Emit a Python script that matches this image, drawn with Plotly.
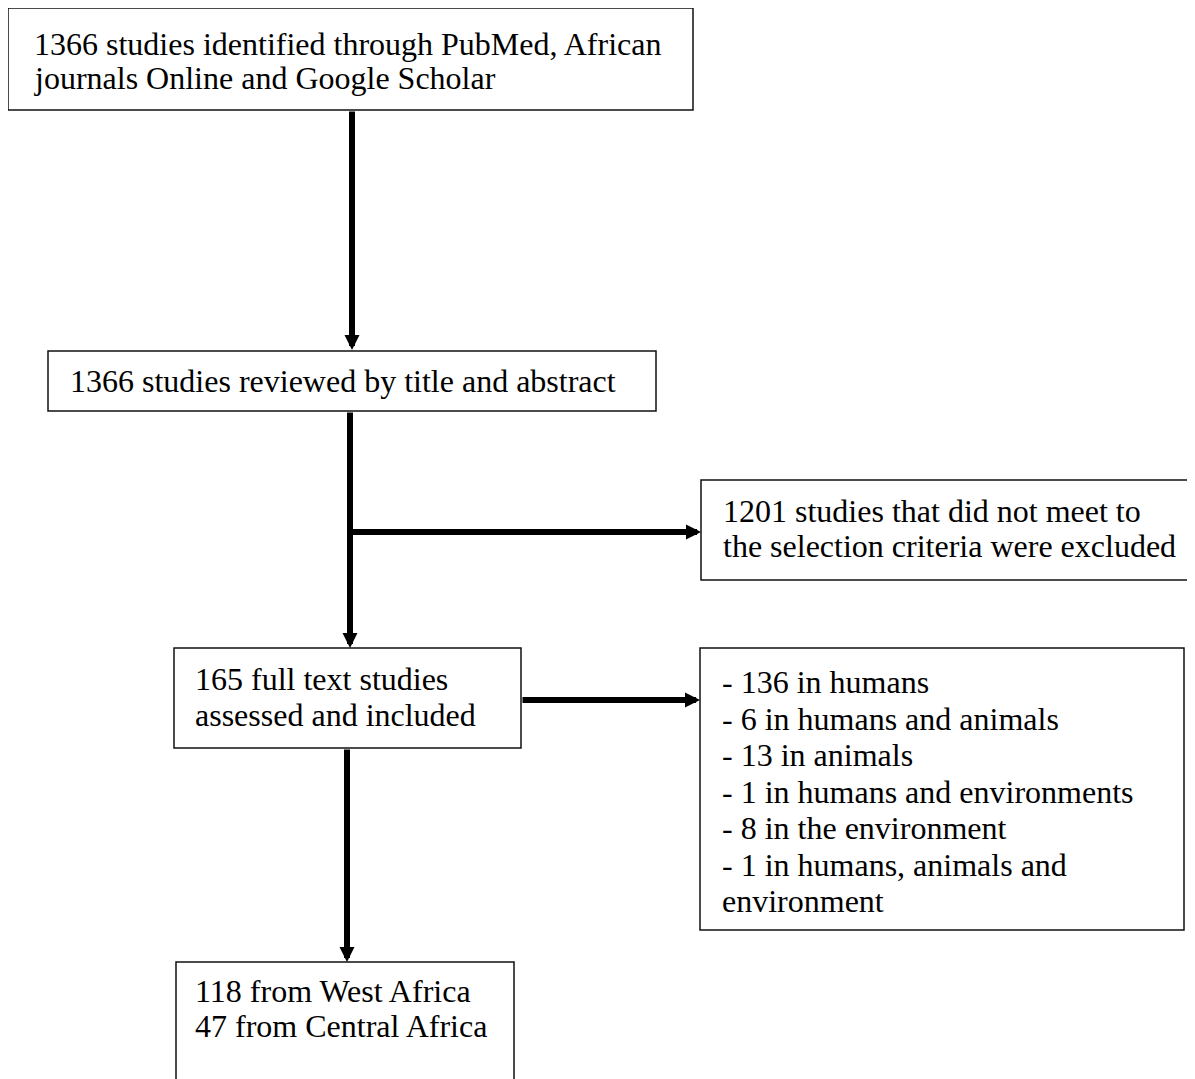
import plotly.graph_objects as go

# ---- content (text of each box) ----
box_texts = [
    ["1366 studies identified through PubMed, African", "journals Online and Google Scholar"],
    ["1366 studies reviewed by title and abstract"],
    ["1201 studies that did not meet to", "the selection criteria were excluded"],
    ["165 full text studies", "assessed and included"],
    ["- 136 in humans", "- 6 in humans and animals", "- 13 in animals",
     "- 1 in humans and environments", "- 8 in the environment",
     "- 1 in humans, animals and", "environment"],
    ["118 from West Africa", "47 from Central Africa"],
]

# ---- layout (pixel geometry: x0, y0, x1, y1, text-x, first-line-y, line step) ----
boxes = [
    (8, 8, 693, 110, 32, 44, 34),
    (48, 351, 656, 411, 68, 381, 35),
    (701, 480, 1196, 580, 721, 511, 35),
    (174, 648, 521, 748, 193, 679, 36),
    (700, 648, 1184, 930, 720, 682, 36.5),
    (176, 962, 514, 1090, 193, 991, 35),
]
# arrows: (x_start, y_start, x_end, y_end)
arrows = [
    (352, 110, 352, 350),
    (350, 411, 350, 648),
    (350, 532, 701, 532),
    (521, 700, 700, 700),
    (347, 748, 347, 962),
]

# page body has an 8px margin, so the plot area starts at page pixel 8
OFF = 8
W, H = 1195, 1079
fig = go.Figure()
fig.add_trace(go.Scatter(x=[OFF, W], y=[OFF, H], mode="markers",
                         marker=dict(opacity=0), hoverinfo="skip", showlegend=False))

shapes = []
annotations = []
for (x0, y0, x1, y1, tx, ty, step), lines in zip(boxes, box_texts):
    shapes.append(dict(type="rect", xref="x", yref="y", x0=x0, y0=y0, x1=x1, y1=y1,
                       line=dict(color="#111111", width=1.5), fillcolor="rgba(0,0,0,0)"))
    for i, line in enumerate(lines):
        annotations.append(dict(x=tx, y=ty + i * step, xref="x", yref="y", text=line,
                                showarrow=False, xanchor="left", yanchor="middle",
                                font=dict(family="Liberation Serif", size=32, color="black")))

for (xs, ys, xe, ye) in arrows:
    annotations.append(dict(x=xe, y=ye, ax=xs, ay=ys, xref="x", yref="y",
                            axref="x", ayref="y", text="", showarrow=True,
                            arrowhead=2, arrowsize=0.5, arrowwidth=6,
                            arrowcolor="black", standoff=0, startstandoff=0))

fig.update_layout(
    width=W - OFF, height=H - OFF,
    margin=dict(l=0, r=0, t=0, b=0),
    paper_bgcolor="white", plot_bgcolor="white",
    xaxis=dict(range=[OFF, W], visible=False, fixedrange=True),
    yaxis=dict(range=[H, OFF], visible=False, fixedrange=True),
    shapes=shapes, annotations=annotations, showlegend=False,
)
fig.write_html("out.html")
